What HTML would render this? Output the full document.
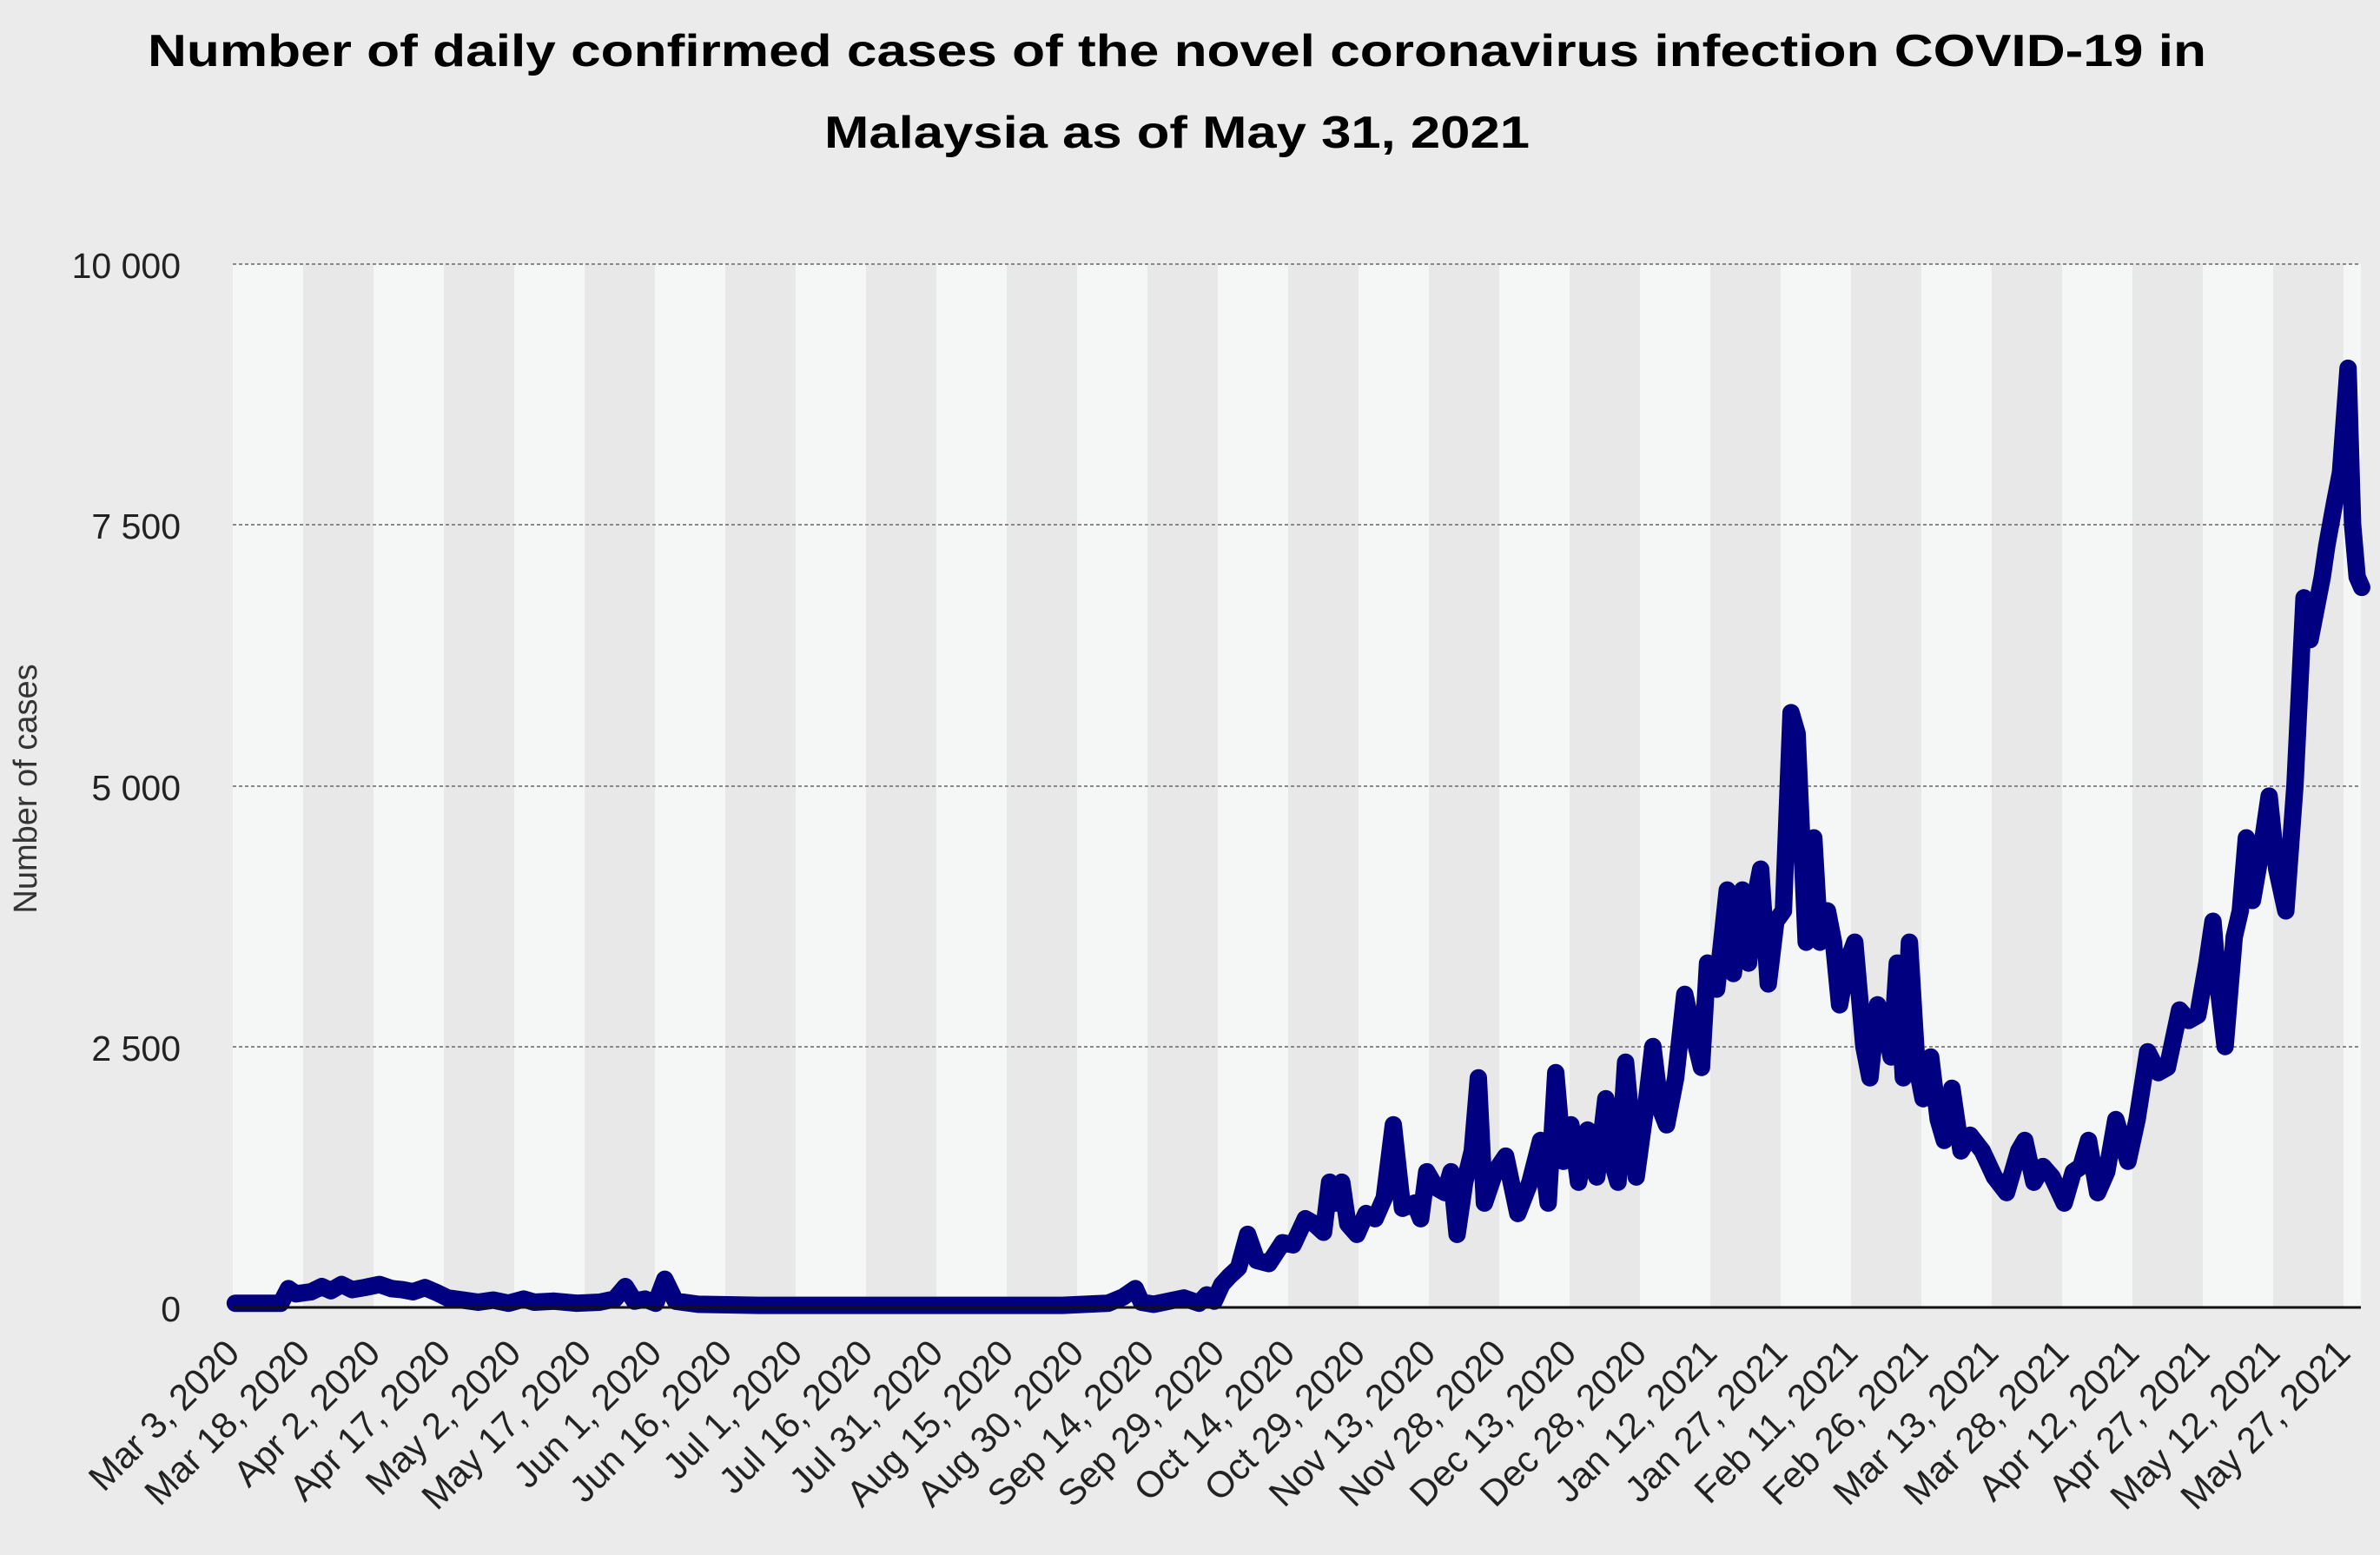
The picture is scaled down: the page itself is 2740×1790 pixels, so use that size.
<!DOCTYPE html>
<html><head><meta charset="utf-8"><style>
html,body{margin:0;padding:0;background:#ebebeb;}
svg{display:block;font-family:"Liberation Sans",sans-serif;}
</style></head><body>
<svg width="2740" height="1790" viewBox="0 0 2740 1790" xmlns="http://www.w3.org/2000/svg">
<rect width="2740" height="1790" fill="#ebebeb"/>
<text x="1355" y="76" text-anchor="middle" font-size="52" font-weight="bold" fill="#000" textLength="2370" lengthAdjust="spacingAndGlyphs">Number of daily confirmed cases of the novel coronavirus infection COVID-19 in</text>
<text x="1355" y="170" text-anchor="middle" font-size="52" font-weight="bold" fill="#000" textLength="812" lengthAdjust="spacingAndGlyphs">Malaysia as of May 31, 2021</text>
<g>
<rect x="268" y="304" width="81" height="1201" fill="#f5f6f6"/><rect x="349" y="304" width="81" height="1201" fill="#e8e8e8"/>
<rect x="430" y="304" width="81" height="1201" fill="#f5f6f6"/><rect x="511" y="304" width="81" height="1201" fill="#e8e8e8"/>
<rect x="592" y="304" width="81" height="1201" fill="#f5f6f6"/><rect x="673" y="304" width="81" height="1201" fill="#e8e8e8"/>
<rect x="754" y="304" width="81" height="1201" fill="#f5f6f6"/><rect x="835" y="304" width="81" height="1201" fill="#e8e8e8"/>
<rect x="916" y="304" width="81" height="1201" fill="#f5f6f6"/><rect x="997" y="304" width="81" height="1201" fill="#e8e8e8"/>
<rect x="1078" y="304" width="81" height="1201" fill="#f5f6f6"/><rect x="1159" y="304" width="81" height="1201" fill="#e8e8e8"/>
<rect x="1240" y="304" width="81" height="1201" fill="#f5f6f6"/><rect x="1321" y="304" width="81" height="1201" fill="#e8e8e8"/>
<rect x="1402" y="304" width="81" height="1201" fill="#f5f6f6"/><rect x="1483" y="304" width="81" height="1201" fill="#e8e8e8"/>
<rect x="1564" y="304" width="81" height="1201" fill="#f5f6f6"/><rect x="1645" y="304" width="81" height="1201" fill="#e8e8e8"/>
<rect x="1726" y="304" width="81" height="1201" fill="#f5f6f6"/><rect x="1807" y="304" width="81" height="1201" fill="#e8e8e8"/>
<rect x="1888" y="304" width="81" height="1201" fill="#f5f6f6"/><rect x="1969" y="304" width="81" height="1201" fill="#e8e8e8"/>
<rect x="2050" y="304" width="81" height="1201" fill="#f5f6f6"/><rect x="2131" y="304" width="81" height="1201" fill="#e8e8e8"/>
<rect x="2212" y="304" width="81" height="1201" fill="#f5f6f6"/><rect x="2293" y="304" width="81" height="1201" fill="#e8e8e8"/>
<rect x="2374" y="304" width="81" height="1201" fill="#f5f6f6"/><rect x="2455" y="304" width="81" height="1201" fill="#e8e8e8"/>
<rect x="2536" y="304" width="81" height="1201" fill="#f5f6f6"/><rect x="2617" y="304" width="81" height="1201" fill="#e8e8e8"/>
<rect x="2698" y="304" width="20" height="1201" fill="#f5f6f6"/>
</g>
<g stroke="#888" stroke-width="2" stroke-dasharray="4,3">
<line x1="268" y1="304" x2="2718" y2="304"/><line x1="268" y1="604" x2="2718" y2="604"/>
<line x1="268" y1="905" x2="2718" y2="905"/><line x1="268" y1="1205" x2="2718" y2="1205"/>
</g>
<g font-size="41" fill="#222" text-anchor="end">
<text x="208" y="320">10 000</text><text x="208" y="620">7 500</text><text x="208" y="921">5 000</text><text x="208" y="1221">2 500</text><text x="208" y="1521">0</text>
</g>
<text transform="translate(42,908) rotate(-90)" text-anchor="middle" font-size="38" fill="#333">Number of cases</text>
<polyline fill="none" stroke="#000080" stroke-width="20" stroke-linejoin="round" stroke-linecap="round" vector-effect="non-scaling-stroke"
transform="translate(0,1505) scale(1.7474,-0.12012)"
points="155,40 185,40 190,180 195,130 205,150 212,200 218,160 225,220 232,170 240,190 250,220 258,180 265,170 272,150 280,190 288,140 295,90 305,70 315,50 325,70 335,40 345,80 352,50 365,60 380,40 395,50 405,80 412,200 418,60 425,80 432,40 438,270 445,60 460,30 500,20 600,20 700,20 730,40 740,100 748,180 752,50 760,30 770,60 780,90 790,40 795,120 800,60 805,220 810,300 816,380 822,700 828,450 836,420 845,620 852,600 860,850 866,800 872,720 876,1200 880,1000 884,1200 888,800 894,700 900,900 906,850 912,1050 918,1750 924,950 932,1000 936,850 940,1300 946,1150 952,1100 956,1300 960,700 965,1200 970,1500 974,2200 978,1000 985,1300 992,1450 1000,900 1008,1200 1015,1600 1020,1000 1025,2250 1030,1400 1035,1750 1040,1200 1046,1700 1052,1250 1058,2000 1063,1350 1066,1200 1071,2350 1078,1250 1085,2000 1089,2500 1094,1900 1098,1750 1104,2200 1110,3000 1116,2600 1121,2300 1125,3300 1131,3050 1138,4000 1142,3200 1148,4000 1152,3300 1156,3900 1160,4200 1165,3100 1170,3700 1175,3800 1180,5700 1184,5500 1187,4500 1190,3500 1195,4500 1199,3500 1204,3800 1208,3500 1212,2900 1217,3300 1222,3500 1228,2500 1232,2200 1237,2900 1242,2700 1246,2400 1250,3300 1254,2200 1258,3500 1263,2300 1267,2000 1272,2400 1277,1800 1281,1600 1286,2100 1292,1500 1298,1650 1306,1500 1314,1250 1322,1100 1330,1500 1334,1600 1340,1200 1346,1350 1352,1250 1360,1000 1366,1300 1371,1350 1376,1600 1382,1100 1388,1300 1394,1800 1402,1400 1408,1800 1415,2450 1422,2250 1428,2300 1436,2850 1442,2750 1448,2800 1454,3300 1458,3700 1462,3000 1466,2500 1472,3550 1476,3800 1480,4500 1484,3900 1490,4400 1495,4900 1500,4200 1506,3800 1512,5000 1518,6800 1522,6400 1526,6700 1530,7000 1533,7300 1538,7700 1542,8000 1547,9000 1550,7500 1553,7000 1556,6900"/>
<line x1="268" y1="1505" x2="2718" y2="1505" stroke="#111" stroke-width="3"/>
<g font-size="42" fill="#222" text-anchor="end">
<text transform="translate(278,1560) rotate(-45)">Mar 3, 2020</text>
<text transform="translate(359,1560) rotate(-45)">Mar 18, 2020</text>
<text transform="translate(440,1560) rotate(-45)">Apr 2, 2020</text>
<text transform="translate(521,1560) rotate(-45)">Apr 17, 2020</text>
<text transform="translate(602,1560) rotate(-45)">May 2, 2020</text>
<text transform="translate(683,1560) rotate(-45)">May 17, 2020</text>
<text transform="translate(764,1560) rotate(-45)">Jun 1, 2020</text>
<text transform="translate(845,1560) rotate(-45)">Jun 16, 2020</text>
<text transform="translate(926,1560) rotate(-45)">Jul 1, 2020</text>
<text transform="translate(1007,1560) rotate(-45)">Jul 16, 2020</text>
<text transform="translate(1088,1560) rotate(-45)">Jul 31, 2020</text>
<text transform="translate(1169,1560) rotate(-45)">Aug 15, 2020</text>
<text transform="translate(1250,1560) rotate(-45)">Aug 30, 2020</text>
<text transform="translate(1331,1560) rotate(-45)">Sep 14, 2020</text>
<text transform="translate(1412,1560) rotate(-45)">Sep 29, 2020</text>
<text transform="translate(1493,1560) rotate(-45)">Oct 14, 2020</text>
<text transform="translate(1574,1560) rotate(-45)">Oct 29, 2020</text>
<text transform="translate(1655,1560) rotate(-45)">Nov 13, 2020</text>
<text transform="translate(1736,1560) rotate(-45)">Nov 28, 2020</text>
<text transform="translate(1817,1560) rotate(-45)">Dec 13, 2020</text>
<text transform="translate(1898,1560) rotate(-45)">Dec 28, 2020</text>
<text transform="translate(1979,1560) rotate(-45)">Jan 12, 2021</text>
<text transform="translate(2060,1560) rotate(-45)">Jan 27, 2021</text>
<text transform="translate(2141,1560) rotate(-45)">Feb 11, 2021</text>
<text transform="translate(2222,1560) rotate(-45)">Feb 26, 2021</text>
<text transform="translate(2303,1560) rotate(-45)">Mar 13, 2021</text>
<text transform="translate(2384,1560) rotate(-45)">Mar 28, 2021</text>
<text transform="translate(2465,1560) rotate(-45)">Apr 12, 2021</text>
<text transform="translate(2546,1560) rotate(-45)">Apr 27, 2021</text>
<text transform="translate(2627,1560) rotate(-45)">May 12, 2021</text>
<text transform="translate(2708,1560) rotate(-45)">May 27, 2021</text>
</g>
</svg>
</body></html>
